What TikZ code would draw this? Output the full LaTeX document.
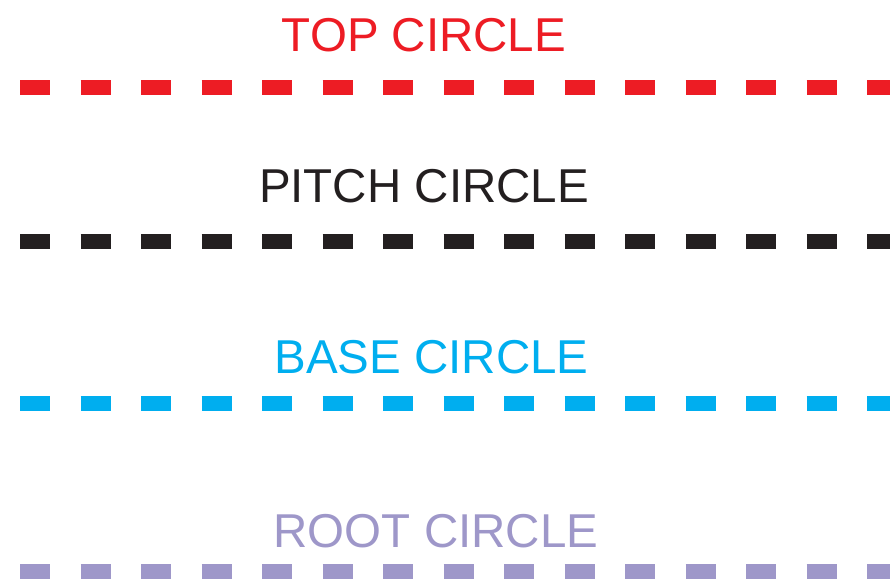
\documentclass[tikz,border=0pt]{standalone}
\usepackage{fontspec}
\setmainfont{Liberation Sans}
\usepackage{tikz}
\definecolor{topred}{HTML}{ED1C24}
\definecolor{pitchblack}{HTML}{231F20}
\definecolor{basecyan}{HTML}{00AEEF}
\definecolor{rootlilac}{HTML}{9E97C9}
\tikzset{
gearline/.style={line width=15pt,dash pattern=on 30pt off 30.5pt},
gearlabel/.style={anchor=base,inner sep=0pt,font=\fontsize{47.5}{50}\selectfont}
}
\newcommand{\circleline}[6]{
\coordinate (#1-start) at (20,#3);
\coordinate (#1-end) at (890,#3);
\draw[gearline,#2] (#1-start)--(#1-end);
\node[gearlabel,text=#2] (#1) at (#4,#5){#6};}

\begin{document}
\begin{tikzpicture}[x=1pt,y=-1pt]
\useasboundingbox (0,0) rectangle (890,578);
\circleline{top}{topred}{87}{424}{52}{TOP CIRCLE}
\circleline{pitch}{pitchblack}{241}{424}{202}{PITCH CIRCLE}
\circleline{base}{basecyan}{403}{431.5}{373}{BASE CIRCLE}
\circleline{root}{rootlilac}{571}{436}{547}{ROOT CIRCLE}
\end{tikzpicture}
\end{document}
